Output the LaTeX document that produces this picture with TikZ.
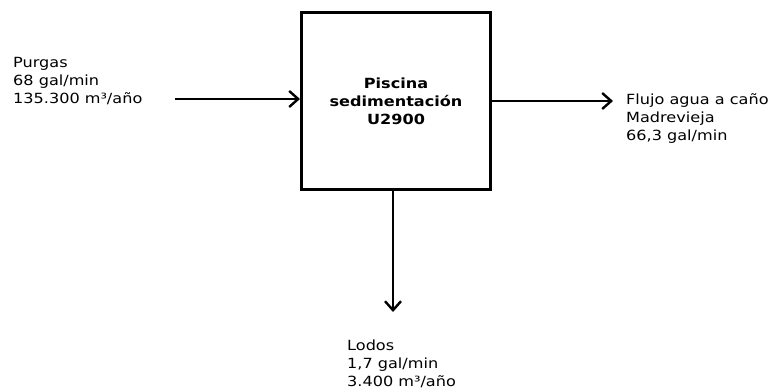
\documentclass[tikz,border=0pt]{standalone}
\usepackage{fontspec}
\setmainfont{DejaVu Sans}[FakeStretch=1.15]
\usepackage{tikz}
\usetikzlibrary{positioning,arrows.meta}
\tikzset{
  >={Straight Barb[length=9pt,width=16pt,line width=2.4pt]},
  unit/.style={draw=black, line width=3pt, minimum width=189pt, minimum height=177pt,
               align=center, font=\fontsize{14}{18}\selectfont\bfseries},
  lbl/.style={align=left, inner sep=0pt, anchor=west, font=\fontsize{14}{18}\selectfont},
  l/.style={->, line width=2.4pt, draw=black},
}
\begin{document}
\begin{tikzpicture}[x=1pt,y=1pt]
  \useasboundingbox (0,0) rectangle (774,391);
  \node[unit] (pis) at (396,290) {Piscina\\sedimentación\\U2900};
  \node[lbl] (pur) at (13,310) {Purgas\\68 gal/min\\135.300 m³/año};
  \node[lbl] (flu) at (626,272) {Flujo agua a caño\\Madrevieja\\66,3 gal/min};
  \node[lbl] (lod) at (347,27) {Lodos\\1,7 gal/min\\3.400 m³/año};
  \coordinate (in) at (175,292);
  \coordinate (out) at (613,290);
  \coordinate (dn) at (393,79);
  \draw[l] (in) -- (in -| pis.west);
  \draw[l] (pis.east) -- (out);
  \draw[l] (dn |- pis.south) -- (dn);
\end{tikzpicture}
\end{document}
